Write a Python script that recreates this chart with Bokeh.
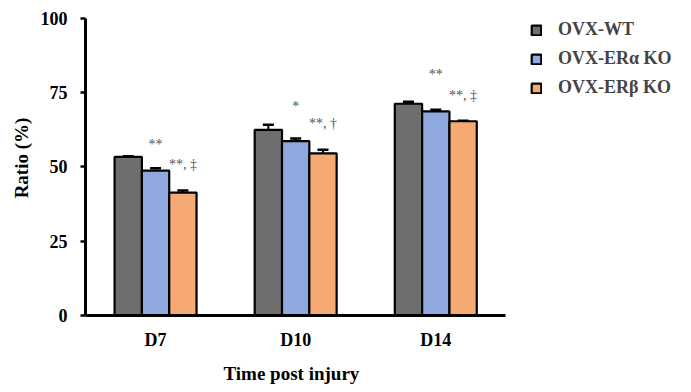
from bokeh.plotting import figure
from bokeh.models import (ColumnDataSource, Whisker, TeeHead, FixedTicker,
                          Legend, LegendItem, Title)
from bokeh.core.properties import value
from bokeh.embed import file_html
from bokeh.resources import INLINE

# Data
days = ["D7", "D10", "D14"]
groups = ["OVX-WT", "OVX-ER\u03b1 KO", "OVX-ER\u03b2 KO"]
wt = [53.4, 62.5, 71.3]
wt_err = [0.2, 1.7, 0.7]
era_ko = [48.8, 58.7, 68.7]
era_err = [0.8, 0.9, 0.6]
erb_ko = [41.4, 54.6, 65.4]
erb_err = [0.7, 1.2, 0.2]

# significance marks: (day index, series index, text, height in %)
sig_day = [0, 0, 1, 1, 2, 2]
sig_series = [1, 2, 1, 2, 1, 2]
sig_text = ["**", "**, \u2021", "*", "**, \u2020", "**", "**, \u2021"]
sig_y = [57.6, 50.9, 70.4, 64.7, 81.1, 74.2]

colors = ["#6e6e6e", "#8fa8dd", "#f4aa72"]
FONT = "Liberation Serif"

bar_w = 0.195
offsets = [-bar_w, 0.0, bar_w]

# The frame spans the full right/top area so the legend has room;
# axis bounds keep the drawn axis lines at the data extent.
p = figure(width=691, height=392, output_backend="svg", toolbar_location=None,
           x_range=(-0.5, 3.825), y_range=(0, 106.06),
           min_border_left=85, min_border_right=0,
           min_border_top=0, min_border_bottom=77)
p.outline_line_color = None
p.grid.grid_line_color = None
p.background_fill_color = "white"
p.border_fill_color = "white"

series = [(wt, wt_err), (era_ko, era_err), (erb_ko, erb_err)]
items = []
for i, (vals, errs) in enumerate(series):
    xs = [d + offsets[i] for d in range(len(days))]
    src = ColumnDataSource(dict(x=xs, top=vals,
                                upper=[v + e for v, e in zip(vals, errs)]))
    r = p.vbar(x="x", top="top", width=bar_w, source=src,
               fill_color=colors[i], line_color="black", line_width=2.2)
    w = Whisker(base="x", lower="top", upper="upper", source=src,
                dimension="height", line_color="black", line_width=2,
                upper_head=TeeHead(size=11, line_width=2.5, line_color="black"),
                lower_head=None)
    p.add_layout(w)
    items.append(LegendItem(label=groups[i], renderers=[r]))

# significance annotations
ann_x, ann_align, ann_off = [], [], []
for d, s in zip(sig_day, sig_series):
    ann_x.append(d + offsets[s])
    if s == 1:
        ann_align.append("center")
        ann_off.append(0)
    else:
        ann_align.append("left")
        ann_off.append(-14)
ann_src = ColumnDataSource(dict(x=ann_x, y=sig_y, text=sig_text,
                                align=ann_align, off=ann_off))
p.text(x="x", y="y", text="text", source=ann_src, text_align="align",
       x_offset="off", text_baseline="middle",
       text_font=value(FONT), text_font_size="14px", text_color="#555555")

legend = Legend(items=items, location=(445, 217), orientation="vertical",
                glyph_width=12, glyph_height=12, spacing=8,
                label_text_font=FONT, label_text_font_style="bold",
                label_text_font_size="18px", label_standoff=16,
                border_line_color=None, background_fill_alpha=0)
p.add_layout(legend)

# axes
p.yaxis.ticker = FixedTicker(ticks=[0, 25, 50, 75, 100])
p.yaxis.bounds = (0, 100)
p.yaxis.axis_line_width = 3
p.yaxis.major_tick_line_width = 2.5
p.yaxis.major_tick_out = 5
p.yaxis.major_tick_in = 0
p.yaxis.minor_tick_line_color = None
p.yaxis.major_label_standoff = 13
p.yaxis.axis_label = "Ratio (%)"
p.yaxis.axis_label_standoff = 6

p.xaxis.ticker = FixedTicker(ticks=list(range(len(days))))
p.xaxis.bounds = (-0.5, 2.5)
p.xaxis.major_label_overrides = {i: d for i, d in enumerate(days)}
p.xaxis.axis_line_width = 3
p.xaxis.major_tick_line_color = None
p.xaxis.minor_tick_line_color = None
p.xaxis.major_label_standoff = 8

for ax in (p.xaxis, p.yaxis):
    ax.major_label_text_font = FONT
    ax.major_label_text_font_style = "bold"
    ax.major_label_text_font_size = "18px"
    ax.major_label_text_color = "black"
    ax.axis_label_text_font = FONT
    ax.axis_label_text_font_style = "bold"
    ax.axis_label_text_font_size = "19px"
    ax.axis_label_text_color = "black"
    ax.axis_line_color = "black"

# x-axis title, centred under the bounded axis rather than the full frame
x_title = Title(text="Time post injury", align="left", offset=138,
                text_font=FONT, text_font_style="bold",
                text_font_size="19px", text_color="black", standoff=16)
p.add_layout(x_title, "below")

open("out.html", "w").write(file_html(p, INLINE))
